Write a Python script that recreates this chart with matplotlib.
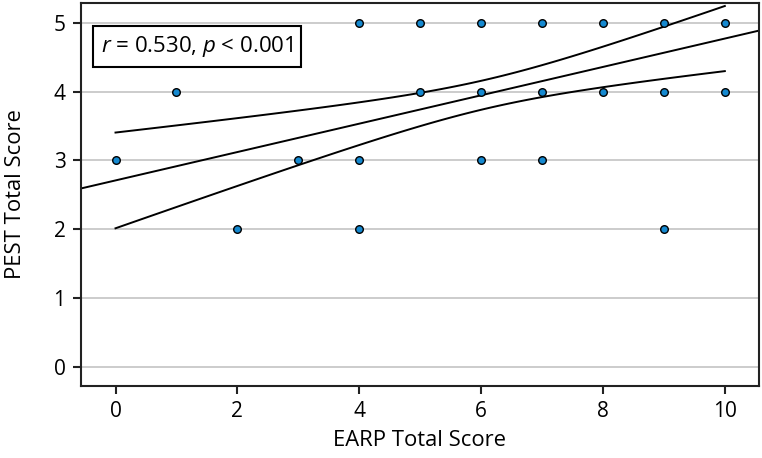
import numpy as np
import matplotlib
matplotlib.use('Agg')
import matplotlib.pyplot as plt

plt.rcParams['font.family'] = 'Open Sans'
plt.rcParams['mathtext.fontset'] = 'custom'
plt.rcParams['mathtext.it'] = 'Open Sans:italic'
plt.rcParams['mathtext.rm'] = 'Open Sans'

# --- data (unique points) ---
earp = [0, 1, 2, 3, 4, 4, 4, 5, 5, 6, 6, 6, 7, 7, 7, 8, 8, 9, 9, 9, 10, 10]
pest = [3, 4, 2, 3, 5, 3, 2, 5, 4, 5, 4, 3, 5, 4, 3, 5, 4, 5, 4, 2, 5, 4]

# --- regression fit ---
fit_intercept = 2.71
fit_slope = 0.206
ci_xmean = 6.1      # x where the band is narrowest
ci_hmin = 0.21      # narrowest half width
ci_curv = 0.0118    # growth of squared half width

fig = plt.figure(figsize=(7.62, 4.58), dpi=100)
ax = fig.add_axes([0.106, 0.158, 0.89, 0.836])

xlim = (-0.57, 10.56)
ax.set_xlim(*xlim)
ax.set_ylim(-0.27, 5.29)

ax.grid(axis='y', color='#c8c8c8', lw=1.3, zorder=0)

# fit line across the full axis
xl = np.array(xlim)
ax.plot(xl, fit_intercept + fit_slope * xl, color='black', lw=1.4, zorder=2)

# confidence band over the data range
xs = np.linspace(min(earp), max(earp), 100)
yfit = fit_intercept + fit_slope * xs
half = np.sqrt(ci_hmin ** 2 + ci_curv * (xs - ci_xmean) ** 2)
ax.plot(xs, yfit + half, color='black', lw=1.4, zorder=2)
ax.plot(xs, yfit - half, color='black', lw=1.4, zorder=2)

ax.scatter(earp, pest, s=30, color='#1589d0', edgecolors='black',
           linewidths=1.0, zorder=3)

ax.set_xticks([0, 2, 4, 6, 8, 10])
ax.set_yticks([0, 1, 2, 3, 4, 5])
ax.tick_params(axis='both', labelsize=15, length=6, width=1.5,
               direction='out', color='#222222', pad=5)
for s in ax.spines.values():
    s.set_linewidth(1.5)
    s.set_color('#222222')

ax.set_xlabel('EARP Total Score', fontsize=15.8, labelpad=6)
ax.set_ylabel('PEST Total Score', fontsize=15.8, labelpad=20)

ax.text(0.03, 0.886, r'$r$ = 0.530, $p$ < 0.001', transform=ax.transAxes,
        fontsize=16, va='center', ha='left',
        bbox=dict(boxstyle='square,pad=0.35', fc='white', ec='black', lw=1.5))

fig.savefig('out.png', dpi=100)
